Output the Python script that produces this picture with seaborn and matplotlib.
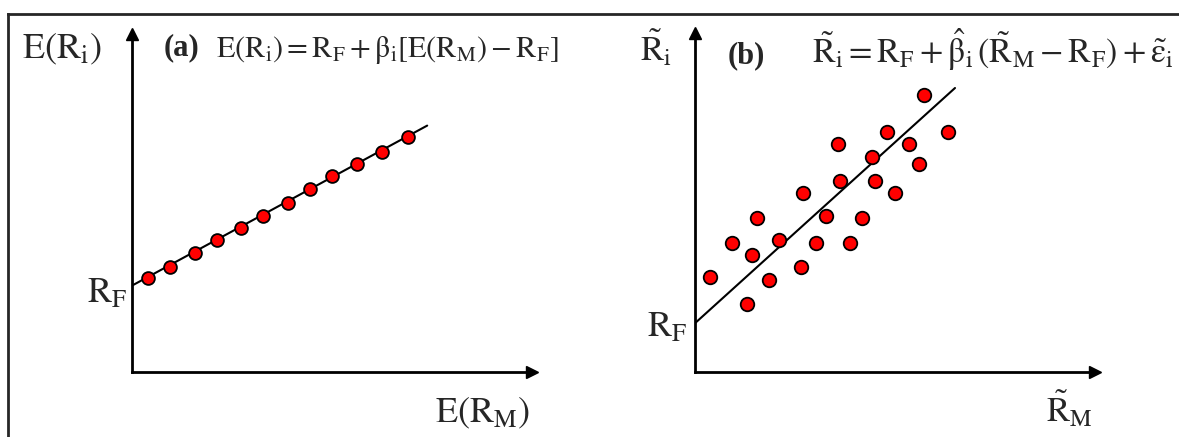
import matplotlib
matplotlib.use("Agg")
import matplotlib.pyplot as plt
import seaborn as sns

# panel (a): expected returns on the security market line (units: arbitrary)
a_market = [0.41, 0.95, 1.58, 2.12, 2.73, 3.28, 3.91, 4.45, 5.01, 5.62, 6.24, 6.91]
a_return = [2.36, 2.62, 2.98, 3.30, 3.59, 3.90, 4.22, 4.58, 4.90, 5.20, 5.51, 5.88]
a_line_x = [0.0, 7.38]
a_line_y = [2.16, 6.16]

# panel (b): realised returns scattered around the fitted line
b_market = [5.73, 6.33, 4.80, 5.35, 3.58, 4.43, 5.60, 3.63, 4.50, 5.00, 2.70, 1.55,
            3.28, 4.18, 0.93, 2.10, 3.03, 3.88, 1.43, 2.65, 0.38, 1.85, 1.30]
b_return = [6.93, 6.00, 6.00, 5.70, 5.70, 5.38, 5.20, 4.78, 4.78, 4.48, 4.48, 3.85,
            3.90, 3.85, 3.23, 3.30, 3.23, 3.23, 2.93, 2.63, 2.38, 2.30, 1.70]
b_line_x = [0.0, 6.50]
b_line_y = [1.22, 7.10]

sns.set_style("white")
plt.rcParams["font.family"] = ["Liberation Serif", "DejaVu Serif"]
plt.rcParams["mathtext.fontset"] = "stix"

W, H = 1179, 437
fig = plt.figure(figsize=(W / 100, H / 100), dpi=100)


def px(x, y):
    # pixel position (from top-left) -> figure fraction
    return x / W, 1 - y / H


def panel(x0, y0, x1, y1):
    ax = fig.add_axes([x0 / W, 1 - y0 / H, (x1 - x0) / W, (y0 - y1) / H])
    ax.set_xlim(0, (x1 - x0) / 40)
    ax.set_ylim(0, (y0 - y1) / 40)
    ax.set_xticks([])
    ax.set_yticks([])
    for s in ["top", "right"]:
        ax.spines[s].set_visible(False)
    for s in ["left", "bottom"]:
        ax.spines[s].set_linewidth(2)
        ax.spines[s].set_color("black")
    ax.plot(1, 0, ">k", ms=9, transform=ax.transAxes, clip_on=False)
    ax.plot(0, 1, "^k", ms=9, transform=ax.transAxes, clip_on=False)
    ax.patch.set_alpha(0)
    return ax


# outer frame (runs off the right and bottom edges)
frame = fig.add_axes([8 / W, 0, 1 - 8 / W, 1 - 14 / H])
frame.set_xticks([])
frame.set_yticks([])
for s in ["right", "bottom"]:
    frame.spines[s].set_visible(False)
for s in ["left", "top"]:
    frame.spines[s].set_linewidth(2)
frame.patch.set_alpha(0)

ax1 = panel(132, 372, 532, 34)
sns.lineplot(x=a_line_x, y=a_line_y, ax=ax1, color="black", lw=1.5)
sns.scatterplot(x=a_market, y=a_return, ax=ax1, color="#ff0000", edgecolor="black",
                linewidth=1.3, s=85, zorder=3, clip_on=False)

ax2 = panel(695, 372, 1095, 33)
sns.lineplot(x=b_line_x, y=b_line_y, ax=ax2, color="black", lw=1.5)
sns.scatterplot(x=b_market, y=b_return, ax=ax2, color="#ff0000", edgecolor="black",
                linewidth=1.3, s=95, zorder=3, clip_on=False)

# labels, panel (a)
fig.text(*px(22, 58), r"$\mathrm{E(R_i)}$", fontsize=26, va="baseline")
fig.text(*px(164, 55), "(a)", fontsize=22, fontweight="bold", va="baseline")
fig.text(*px(216, 57), r"$\mathrm{E(R_i) = R_F + \beta_i[E(R_M) - R_F]}$",
         fontsize=21.7, va="baseline")
fig.text(*px(87, 303), r"$\mathrm{R_F}$", fontsize=26, va="baseline")
fig.text(*px(435, 422), r"$\mathrm{E(R_M)}$", fontsize=26, va="baseline")

# labels, panel (b)
fig.text(*px(640, 61), r"$\mathrm{\tilde{R}_i}$", fontsize=25, va="baseline")
fig.text(*px(728, 63), "(b)", fontsize=22, fontweight="bold", va="baseline")
fig.text(*px(812, 63),
         r"$\mathrm{\tilde{R}_i = R_F + \hat{\beta}_i\,(\tilde{R}_M - R_F) + \tilde{\varepsilon}_i}$",
         fontsize=24.5, va="baseline")
fig.text(*px(647, 337), r"$\mathrm{R_F}$", fontsize=26, va="baseline")
fig.text(*px(1046, 422), r"$\mathrm{\tilde{R}_M}$", fontsize=25, va="baseline")

fig.savefig("out.png", dpi=100)
